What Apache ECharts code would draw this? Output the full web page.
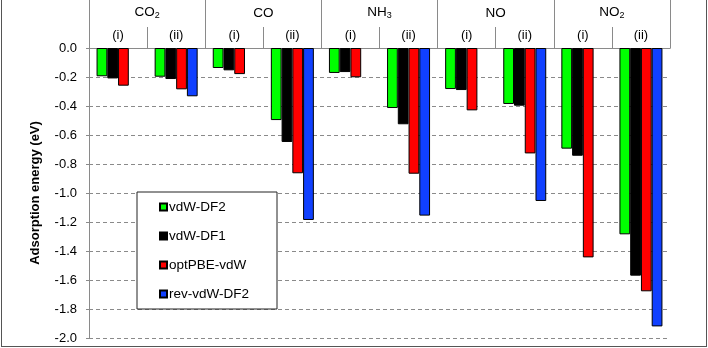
<!DOCTYPE html>
<html>
<head>
<meta charset="utf-8">
<script src="https://cdn.jsdelivr.net/npm/echarts@6/dist/echarts.min.js"></script>
<style>
  html, body { margin: 0; padding: 0; background: #fff; }
  #wrap { position: relative; width: 708px; height: 348px; }
  #chart { position: absolute; left: 0; top: 0; width: 708px; height: 348px; }
  #frame {
    position: absolute; left: 1px; top: 0; width: 704px; height: 346px;
    border: 1px solid #555; border-top: none; pointer-events: none;
  }
</style>
</head>
<body>
<div id="wrap">
  <div id="chart"></div>
  <div id="frame"></div>
</div>
<script>
// molecules and adsorption sites
const groups = ['CO2', 'CO', 'NH3', 'NO', 'NO2'];
const subLabels = ['(i)', '(ii)', '(i)', '(ii)', '(i)', '(ii)', '(i)', '(ii)', '(i)', '(ii)'];
const categories = ['CO2 (i)', 'CO2 (ii)', 'CO (i)', 'CO (ii)', 'NH3 (i)', 'NH3 (ii)', 'NO (i)', 'NO (ii)', 'NO2 (i)', 'NO2 (ii)'];

// adsorption energies (eV)
const vdwDF2 = [-0.195, -0.198, -0.138, -0.497, -0.172, -0.414, -0.283, -0.386, -0.694, -1.285];
const vdwDF1 = [-0.21, -0.214, -0.154, -0.648, -0.166, -0.526, -0.29, -0.398, -0.743, -1.57];
const optPBE = [-0.26, -0.285, -0.18, -0.864, -0.202, -0.867, -0.43, -0.727, -1.444, -1.678];
const revDF2 = [null, -0.333, null, -1.186, null, -1.156, null, -1.055, null, -1.92];

const yTicks = [0, -0.2, -0.4, -0.6, -0.8, -1.0, -1.2, -1.4, -1.6, -1.8, -2.0];

const FONT = 'Liberation Sans, Arial, sans-serif';
const GREY = '#8a8a8a';

function groupLabel(name) {
  // CO2 -> CO{s|2}
  return name.replace(/(\d)/g, '{s|$1}');
}

const chart = echarts.init(document.getElementById('chart'));

function bar(name, data, color) {
  return {
    name: name,
    type: 'bar',
    xAxisIndex: 0,
    data: data,
    barGap: '0%',
    barCategoryGap: '26%',
    itemStyle: {color: color, borderColor: '#000', borderWidth: 1},
  };
}

chart.setOption({
  animation: false,
  textStyle: {fontFamily: FONT},
  grid: {left: 89, right: 38, top: 48, bottom: 10},
  legend: {
    orient: 'vertical',
    left: 137,
    top: 192,
    padding: [8, 28, 8, 22],
    itemWidth: 7,
    itemHeight: 7,
    itemGap: 15,
    icon: 'rect',
    backgroundColor: '#fff',
    borderColor: '#222',
    borderWidth: 1,
    textStyle: {fontSize: 13.5, color: '#000', fontFamily: FONT, padding: [0, 0, 0, -3]},
  },
  xAxis: [
    {
      type: 'category',
      position: 'bottom',
      data: categories,
      axisLine: {show: false},
      axisTick: {show: false},
      axisLabel: {show: false},
    },
    {
      type: 'category',
      position: 'top',
      data: subLabels,
      axisLine: {show: true, lineStyle: {color: GREY, width: 1}},
      axisTick: {show: true, interval: 0, length: 21, lineStyle: {color: GREY}},
      axisLabel: {interval: 0, margin: 6, fontSize: 13, color: '#000'},
    },
    {
      type: 'category',
      position: 'top',
      data: groups,
      axisLine: {show: true, lineStyle: {color: GREY, width: 1}},
      axisTick: {show: true, interval: 0, length: 48, lineStyle: {color: GREY}},
      axisLabel: {
        interval: 0,
        margin: 28,
        color: '#000',
        formatter: groupLabel,
        rich: {
          s: {fontSize: 9, padding: [7, 0, 0, 0], color: '#000'},
        },
        fontSize: 13.5,
      },
    },
  ],
  yAxis: {
    type: 'value',
    min: -2,
    max: 0,
    interval: 0.2,
    name: 'Adsorption energy (eV)',
    nameLocation: 'middle',
    nameGap: 47,
    nameTextStyle: {fontSize: 13, fontWeight: 'bold', color: '#000'},
    axisLine: {show: true, lineStyle: {color: GREY, width: 1}},
    axisTick: {show: true, length: 3, lineStyle: {color: GREY}},
    axisLabel: {
      fontSize: 13,
      color: '#000',
      margin: 12,
      formatter: v => (yTicks.some(t => Math.abs(t - v) < 1e-6) ? v.toFixed(1) : ''),
    },
    splitLine: {show: true, lineStyle: {color: GREY, type: [4, 3], width: 1}},
  },
  series: [
    bar('vdW-DF2', vdwDF2, '#00ff00'),
    bar('vdW-DF1', vdwDF1, '#000000'),
    bar('optPBE-vdW', optPBE, '#ff0000'),
    bar('rev-vdW-DF2', revDF2, '#1040ff'),
  ],
});
</script>
</body>
</html>
